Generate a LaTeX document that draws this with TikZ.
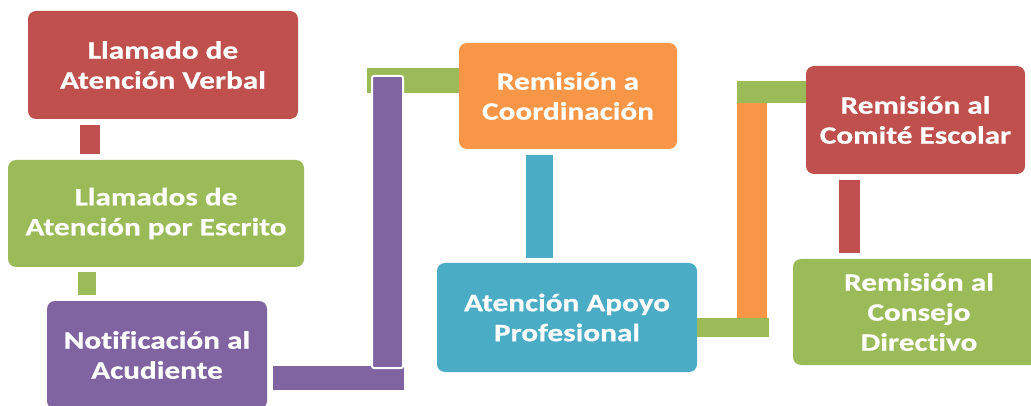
\documentclass[tikz,border=0pt]{standalone}
\usepackage{fontspec}
\setmainfont{Carlito}[FakeStretch=1.25, Ligatures=NoCommon, BoldFeatures={FakeBold=0.6}]
\usetikzlibrary{calc}
\definecolor{cred}{HTML}{C0504D}
\definecolor{cgreen}{HTML}{9BBB59}
\definecolor{cpurple}{HTML}{8064A2}
\definecolor{corange}{HTML}{F79646}
\definecolor{cblue}{HTML}{4BACC6}
\pgfdeclarelayer{back}
\pgfdeclarelayer{bg}
\pgfsetlayers{back,bg,main}
\tikzset{
  box/.style={rounded corners=8pt, text=white, align=center, inner sep=0pt,
    font=\fontsize{25}{30}\selectfont\bfseries},
}
\begin{document}
\begin{tikzpicture}[x=1pt,y=-1pt]
\useasboundingbox (0,0) rectangle (1031,406);
\clip (0,0) rectangle (1031,406);
\begin{pgfonlayer}{back}
\fill[white] (0,0) rectangle (1031,406);
\end{pgfonlayer}
\node[box, fill=cred, minimum width=270pt, minimum height=108pt] (b1) at (163,65) {Llamado de\\Atención Verbal};
\node[box, fill=cgreen, minimum width=296pt, minimum height=107pt] (b2) at (156,213.5) {Llamados de\\Atención por Escrito};
\node[box, fill=cpurple, minimum width=220pt, minimum height=108pt] (b3) at (157,355) {Notificación al\\Acudiente};
\node[box, fill=corange, minimum width=218pt, minimum height=106pt] (b4) at (568,96) {Remisión a\\Coordinación};
\node[box, fill=cblue, minimum width=260pt, minimum height=109pt] (b5) at (567,317.5) {Atención Apoyo\\Profesional};
\node[box, fill=cred, minimum width=219pt, minimum height=108pt] (b6) at (915.5,120) {Remisión al\\Comité Escolar};
\node[box, fill=cgreen, minimum width=252pt, minimum height=106pt] (b7) at (919,312) {Remisión al\\Consejo\\Directivo};
\begin{pgfonlayer}{bg}
% left column
\fill[cred] ($(b1.south west)+(52,6)$) rectangle ($(b2.north west)+(92,-6)$);
\fill[cgreen] ($(b2.south west)+(70,5)$) rectangle ($(b3.north west)+(49,-6)$);
% purple elbow to orange
\coordinate (pc) at ($(b3.east)+(137,35)$);
\fill[cgreen] (367,68) rectangle ($(b4.west)+(4,-3)$);
\fill[cpurple] ($(b3.east)+(6,11)$) rectangle (pc);
\filldraw[fill=cpurple, draw=white, line width=2pt, rounded corners=2pt] (372,76) rectangle (403,368);
% orange to blue
\fill[cblue] ($(b4.south)+(-42,6)$) rectangle ($(b5.north)+(-14,-5)$);
% blue to red
\fill[corange] (737,83) rectangle (767,327);
\fill[cgreen] ($(b5.east)+(-4,0.5)$) rectangle (769,337);
\fill[cgreen] (737,81) rectangle ($(b6.west)+(3,-17)$);
% red to green
\fill[cred] ($(b6.south)+(-76.5,6)$) rectangle ($(b7.north)+(-59,-6)$);
\end{pgfonlayer}
\end{tikzpicture}
\end{document}
